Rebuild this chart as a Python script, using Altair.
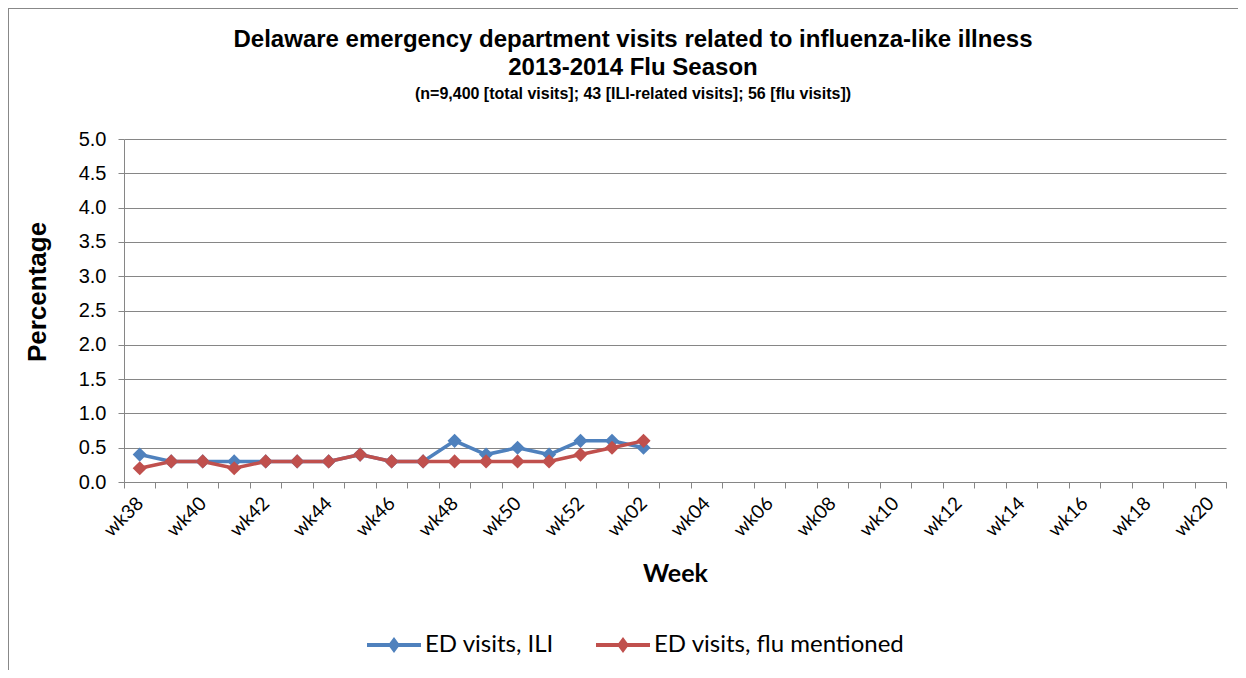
import altair as alt
import pandas as pd

weeks = [f"wk{w}" for w in range(38, 53)] + [f"wk{w:02d}" for w in range(1, 21)]
data_weeks = weeks[:17]
ili = [0.4, 0.3, 0.3, 0.3, 0.3, 0.3, 0.3, 0.4, 0.3, 0.3, 0.6, 0.4, 0.5, 0.4, 0.6, 0.6, 0.5]
flu = [0.2, 0.3, 0.3, 0.2, 0.3, 0.3, 0.3, 0.4, 0.3, 0.3, 0.3, 0.3, 0.3, 0.3, 0.4, 0.5, 0.6]
series_names = ["ED visits, ILI", "ED visits, flu mentioned"]
series_colors = ["#4F81BD", "#C0504D"]
y_ticks = [0, 0.5, 1.0, 1.5, 2.0, 2.5, 3.0, 3.5, 4.0, 4.5, 5.0]
title_lines = [
    "Delaware emergency department visits related to influenza-like illness",
    "2013-2014 Flu Season",
    "(n=9,400 [total visits]; 43 [ILI-related visits]; 56 [flu visits])",
]

rows = []
for w, v in zip(data_weeks, ili):
    rows.append({"week": w, "value": v, "series": series_names[0], "order": 0})
for w, v in zip(data_weeks, flu):
    rows.append({"week": w, "value": v, "series": series_names[1], "order": 1})
df = pd.DataFrame(rows)

W, H = 1102, 343
PL, PT = 116, 131
TOTAL_W, TOTAL_H = 1230, 662
GRID = "#868686"

x_enc = alt.X(
    "week:N",
    sort=weeks,
    scale=alt.Scale(type="band", domain=weeks, paddingInner=0, paddingOuter=0),
    axis=alt.Axis(
        title="Week",
        labelAngle=-45,
        labelAlign="right",
        labelBaseline="middle",
        labelFont="Lato",
        labelFontSize=19,
        labelColor="#000000",
        labelPadding=12,
        labelExpr="parseInt(substring(datum.label, 2)) % 2 == 0 ? datum.label : ''",
        tickBand="extent",
        tickSize=6,
        tickColor=GRID,
        domainColor=GRID,
        titleFont="Lato",
        titleFontSize=25,
        titleFontWeight="bold",
        titleColor="#000000",
        titleY=91,
        titleBaseline="middle",
        grid=False,
    ),
)
y_enc = alt.Y(
    "value:Q",
    scale=alt.Scale(domain=[0, 5], nice=False),
    axis=alt.Axis(
        title="Percentage",
        values=y_ticks,
        format=".1f",
        labelFont="Liberation Sans",
        labelFontSize=20,
        labelColor="#000000",
        labelPadding=12,
        tickSize=6,
        tickColor=GRID,
        domainColor=GRID,
        gridColor=GRID,
        titleFont="Liberation Sans",
        titleFontSize=26,
        titleFontWeight="bold",
        titleColor="#000000",
        titleX=-87,
        titleY=H / 2 - 19,
        titleAlign="center",
        titleBaseline="middle",
        titleAngle=270,
    ),
)
color_scale = alt.Scale(domain=series_names, range=series_colors)

legend_symbol = "M-1,-0.07H1V0.07H-1Z M0,-0.3L0.22,0L0,0.3L-0.22,0Z"

lines = alt.Chart(df).mark_line(strokeWidth=3.5).encode(
    x=x_enc,
    y=y_enc,
    color=alt.Color("series:N", scale=color_scale, legend=None),
    order="order:Q",
    detail="series:N",
)
points = alt.Chart(df).mark_point(shape="diamond", filled=True, size=200, opacity=1).encode(
    x=x_enc,
    y=y_enc,
    color=alt.Color(
        "series:N",
        scale=color_scale,
        legend=alt.Legend(
            title=None,
            orient="none",
            direction="horizontal",
            legendX=243,
            legendY=506 - 27,
            symbolType=legend_symbol,
            symbolSize=54 * 54,
            symbolStrokeWidth=0,
            symbolOpacity=1,
            labelFont="Lato",
            labelFontSize=24,
            labelColor="#000000",
            labelOffset=4,
            columnPadding=42,
            padding=0,
            labelLimit=400,
        ),
    ),
)

title_marks = []
for text, ty, fs in zip(title_lines, [-99, -71, -45], [24, 24, 16]):
    title_marks.append(
        alt.Chart(pd.DataFrame({"t": [text]}))
        .mark_text(font="Liberation Sans", fontWeight="bold", fontSize=fs, color="#000000",
                   align="center", baseline="middle")
        .encode(text="t:N", x=alt.value(509), y=alt.value(ty))
    )

frame_top = alt.Chart(df).mark_rule(color="#888888", strokeWidth=1).encode(
    x=alt.value(-PL + 0.5), x2=alt.value(TOTAL_W - PL), y=alt.value(-PT + 0.5)
)
frame_left = alt.Chart(df).mark_rule(color="#888888", strokeWidth=1).encode(
    x=alt.value(-PL + 0.5), y=alt.value(-PT + 0.5), y2=alt.value(TOTAL_H - PT)
)

chart = (
    alt.layer(lines, points, frame_top, frame_left, *title_marks)
    .resolve_legend(color="independent")
    .properties(
        width=W,
        height=H,
        autosize=alt.AutoSizeParams(type="none"),
        padding={"left": PL, "top": PT, "right": TOTAL_W - PL - W, "bottom": TOTAL_H - PT - H},
    )
    .configure_view(stroke=None)
    .configure_axis(gridWidth=1, domainWidth=1, tickWidth=1)
)

chart.save("out.html", embed_options={"renderer": "svg", "actions": False})
